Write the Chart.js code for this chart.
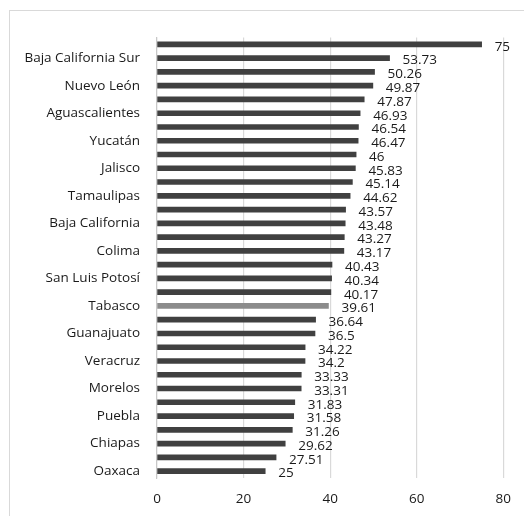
<!DOCTYPE html>
<html>
<head>
<meta charset="utf-8">
<script src="https://cdn.jsdelivr.net/npm/chart.js@4.4.1/dist/chart.umd.min.js"></script>
<style>
  html, body { margin: 0; padding: 0; background: #fff; overflow: hidden; }
  #wrap { position: relative; width: 524px; height: 516px; }
  #frame { position: absolute; left: 9px; top: 10px; width: 700px; height: 700px; border: 1px solid #d9d9d9; }
  #myChart { position: absolute; left: 0; top: 0; }
</style>
</head>
<body>
<div id="wrap">
  <div id="frame"></div>
  <canvas id="myChart" width="524" height="516"></canvas>
</div>
<script>
// states, sorted high to low (only every other name is shown on the axis)
const states = [
  "Ciudad de México", "Baja California Sur", "Querétaro", "Nuevo León",
  "Sonora", "Aguascalientes", "Coahuila", "Yucatán",
  "Chihuahua", "Jalisco", "Sinaloa", "Tamaulipas",
  "Quintana Roo", "Baja California", "Nayarit", "Colima",
  "Durango", "San Luis Potosí", "Zacatecas", "Tabasco",
  "Estado de México", "Guanajuato", "Hidalgo", "Veracruz",
  "Michoacán", "Morelos", "Tlaxcala", "Puebla",
  "Campeche", "Chiapas", "Guerrero", "Oaxaca",
];
const values = [
  75, 53.73, 50.26, 49.87, 47.87, 46.93, 46.54, 46.47,
  46, 45.83, 45.14, 44.62, 43.57, 43.48, 43.27, 43.17,
  40.43, 40.34, 40.17, 39.61, 36.64, 36.5, 34.22, 34.2,
  33.33, 33.31, 31.83, 31.58, 31.26, 29.62, 27.51, 25,
];
const xTicks = [0, 20, 40, 60, 80];
const highlight = "Tabasco";

const font = "'Open Sans', 'Noto Sans', sans-serif";

// value labels next to each bar end
const barLabels = {
  id: "barLabels",
  afterDatasetsDraw(chart) {
    const c = chart.ctx;
    const meta = chart.getDatasetMeta(0);
    c.save();
    c.font = "13.5px " + font;
    c.fillStyle = "#1a1a1a";
    c.textAlign = "left";
    c.textBaseline = "middle";
    meta.data.forEach((bar, i) => {
      c.fillText(String(values[i]), bar.x + 13, bar.y + 2.5);
    });
    c.restore();
  },
};

const ctx = document.getElementById("myChart");

new Chart(ctx, {
  type: "bar",
  data: {
    labels: states,
    datasets: [
      {
        data: values,
        backgroundColor: states.map((s) => (s === highlight ? "#8c8c8c" : "#404040")),
        barThickness: 5,
      },
    ],
  },
  options: {
    indexAxis: "y",
    responsive: false,
    animation: false,
    devicePixelRatio: 1,
    layout: {
      padding: { top: 37.5, right: 18.5, left: 0, bottom: 0 },
    },
    plugins: {
      legend: { display: false },
      tooltip: { enabled: false },
    },
    scales: {
      x: {
        min: 0,
        max: 80,
        afterBuildTicks(scale) {
          scale.ticks = xTicks.map((v) => ({ value: v }));
        },
        afterFit(scale) {
          scale.height = 38;
        },
        grid: {
          color: "#d9d9d9",
          lineWidth: 1.2,
          drawTicks: false,
        },
        border: { display: false },
        ticks: {
          padding: 13,
          color: "#1a1a1a",
          font: { family: font, size: 13.5 },
        },
      },
      y: {
        afterFit(scale) {
          scale.width = 157;
        },
        grid: { display: false, drawTicks: false },
        border: { display: true, color: "#c8c8c8", width: 1.2 },
        ticks: {
          autoSkip: false,
          padding: 17,
          color: "#1a1a1a",
          font: { family: font, size: 13.5 },
          callback: (v, i) => (i % 2 === 1 ? states[i] : ""),
        },
      },
    },
  },
  plugins: [barLabels],
});
</script>
</body>
</html>
